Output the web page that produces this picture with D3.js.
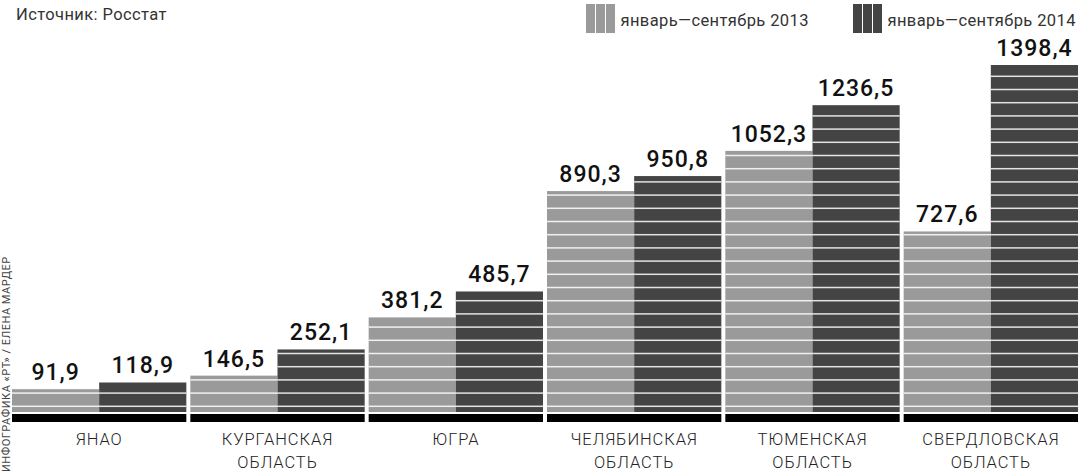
<!DOCTYPE html>
<html>
<head>
<meta charset="utf-8">
<script src="https://cdn.jsdelivr.net/npm/d3@7"></script>
<style>
body{margin:0;background:#fff;}
svg{display:block;font-family:Roboto,"DejaVu Sans",sans-serif;}
</style>
</head>
<body>
<svg width="1081" height="474"></svg>
<script>
//data
var regions = ['ЯНАО','КУРГАНСКАЯ ОБЛАСТЬ','ЮГРА','ЧЕЛЯБИНСКАЯ ОБЛАСТЬ','ТЮМЕНСКАЯ ОБЛАСТЬ','СВЕРДЛОВСКАЯ ОБЛАСТЬ']
var regionLines = [['ЯНАО'],['КУРГАНСКАЯ','ОБЛАСТЬ'],['ЮГРА'],['ЧЕЛЯБИНСКАЯ','ОБЛАСТЬ'],['ТЮМЕНСКАЯ','ОБЛАСТЬ'],['СВЕРДЛОВСКАЯ','ОБЛАСТЬ']]
var values2013 = [91.9,146.5,381.2,890.3,1052.3,727.6]
var values2014 = [118.9,252.1,485.7,950.8,1236.5,1398.4]
var seriesNames = ['январь—сентябрь 2013','январь—сентябрь 2014']
var colors = ['#9a9a9a','#444444']

var svg = d3.select('svg')

var x = d3.scaleBand().domain(regions).range([12,1078]).paddingInner(0.0224)
var half = d3.scaleBand().domain([0,1]).range([0,x.bandwidth()])
var y = d3.scaleLinear().domain([0,1398.4]).range([412,65])

var bars = []
regions.forEach(function(r,i){
	bars.push({region:r,s:0,value:values2013[i]})
	bars.push({region:r,s:1,value:values2014[i]})
})

//bars
svg.selectAll('rect.bar').data(bars).enter().append('rect').attr('class','bar')
	.attr('x',function(d){return x(d.region)+half(d.s)})
	.attr('width',half.bandwidth())
	.attr('y',function(d){return y(d.value)})
	.attr('height',function(d){return y(0)-y(d.value)})
	.attr('fill',function(d){return colors[d.s]})

//white horizontal stripes across the bars
var stripeStep = 13.2
bars.forEach(function(d){
	var top = y(d.value)
	for(var sy = y(0)-5.7; sy > top+2; sy -= stripeStep){
		svg.append('rect')
			.attr('x',x(d.region)+half(d.s)).attr('width',half.bandwidth())
			.attr('y',sy-0.75).attr('height',1.5)
			.attr('fill','#fff').attr('opacity',0.85)
	}
})

//black base under each group
svg.selectAll('rect.base').data(regions).enter().append('rect').attr('class','base')
	.attr('x',function(d){return x(d)}).attr('width',x.bandwidth())
	.attr('y',y(0)+2).attr('height',8).attr('fill','#000')

//value labels
svg.selectAll('text.val').data(bars).enter().append('text').attr('class','val')
	.attr('x',function(d){return x(d.region)+half(d.s)+half.bandwidth()/2})
	.attr('y',function(d){return y(d.value)-9})
	.attr('text-anchor','middle')
	.attr('font-size',23).attr('font-weight',500).attr('letter-spacing',1)
	.attr('fill','#111')
	.text(function(d){return d3.format('.1f')(d.value).replace('.',',')})

//category labels
regionLines.forEach(function(lines,i){
	lines.forEach(function(line,j){
		svg.append('text')
			.attr('x',x(regions[i])+x.bandwidth()/2)
			.attr('y',444.5+j*23)
			.attr('text-anchor','middle')
			.attr('font-size',16.5).attr('font-weight',300).attr('letter-spacing',0.9)
			.attr('fill','#222')
			.text(line)
	})
})

//source
svg.append('text').attr('x',16).attr('y',19.5).attr('font-size',16.5).attr('fill','#333').attr('letter-spacing',0.4).text('Источник: Росстат')

//legend
var legendX = [586,853]
seriesNames.forEach(function(name,i){
	var g = svg.append('g').attr('transform','translate(' + legendX[i] + ',4)')
	for(var k=0;k<3;k++){
		g.append('rect').attr('x',k*10).attr('y',0).attr('width',9).attr('height',29).attr('fill',colors[i])
	}
	g.append('text').attr('x',34.5).attr('y',22).attr('font-size',16.5).attr('fill','#333').attr('letter-spacing',0.4).text(name)
})

//credit on the left side
svg.append('text')
	.attr('transform','translate(10,472) rotate(-90)')
	.attr('font-size',11).attr('fill','#444').attr('letter-spacing',0.5)
	.text('ИНФОГРАФИКА «РТ» / ЕЛЕНА МАРДЕР')
</script>
</body>
</html>
